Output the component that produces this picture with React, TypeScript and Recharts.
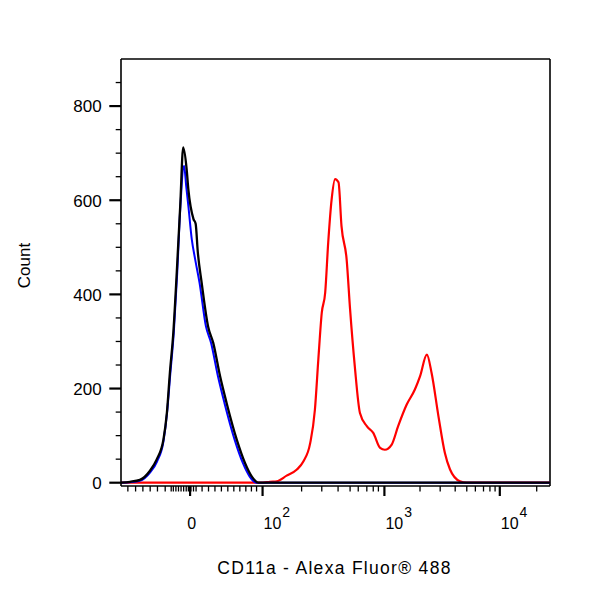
import React from "react";
import { LineChart, Line, XAxis, YAxis, Label, ReferenceLine } from "recharts";

// Display channel (0..1000 across the biexponential axis) and counts per series
const stainedChannel = [0, 261, 331, 347, 363, 386, 410, 425, 441, 452, 460, 468, 476, 483, 491, 499, 507, 514, 526, 534, 545, 557, 573, 588, 604, 615, 631, 646, 666, 685, 697, 713, 724, 740, 755, 767, 790, 806, 1000];
const stainedCount = [0, 0, 0, 2, 3, 15, 28, 45, 84, 155, 262, 361, 404, 510, 602, 645, 638, 545, 474, 368, 247, 148, 120, 106, 74, 70, 81, 120, 166, 198, 226, 272, 233, 141, 63, 28, 3, 0, 0];

const unstainedChannel = [0, 21, 44, 68, 84, 99, 107, 115, 123, 131, 138, 147, 152, 157, 165, 173, 183, 198, 210, 226, 241, 265, 284, 300, 315, 1000];
const unstainedCount = [0, 1, 4, 22, 45, 88, 145, 232, 318, 445, 580, 673, 630, 588, 517, 474, 425, 332, 297, 226, 170, 91, 42, 13, 0, 0];

const isotypeChannel = [0, 21, 44, 68, 83, 99, 107, 114, 122, 130, 138, 145, 153, 157, 169, 174, 179, 188, 203, 215, 231, 246, 270, 289, 305, 320, 1000];
const isotypeCount = [0, 2, 6, 26, 49, 92, 149, 234, 319, 447, 587, 712, 666, 623, 560, 550, 490, 425, 332, 297, 226, 170, 91, 42, 13, 0, 0];

// Axis ticks
const xMajorTicks = [161, 330, 614, 883];
const xMajorLabels = ["0", "2", "3", "4"]; // "0" then exponents of 10
const xMinorTicks = [
  16, 34, 51, 68, 85, 103,
  117, 122, 128, 134, 140, 146, 152, 157, 163, 169, 175,
  189, 204, 219, 234, 249, 263, 277, 291, 304, 316,
  421, 468, 506, 534, 553, 573, 588, 600,
  697, 744, 779, 806, 826, 845, 860, 872,
  969,
];
const yMajorTicks = [0, 200, 400, 600, 800];
const yMinorTicks = [50, 100, 150, 250, 300, 350, 450, 500, 550, 650, 700, 750, 850];

const xDomain = [0, 1000];
const yDomain = [-7, 900];

const xTitle = "CD11a - Alexa Fluor® 488";
const yTitle = "Count";

const FONT = "'Liberation Sans', Arial, sans-serif";

const toRows = (xs: number[], ys: number[]) => xs.map((ch, i) => ({ ch, count: ys[i] }));
const stainedData = toRows(stainedChannel, stainedCount);
const unstainedData = toRows(unstainedChannel, unstainedCount);
const isotypeData = toRows(isotypeChannel, isotypeCount);

const allXTicks = [...xMinorTicks, ...xMajorTicks].sort((a, b) => a - b);
const allYTicks = [...yMinorTicks, ...yMajorTicks].sort((a, b) => a - b);

const XTick = (props: any) => {
  const { x, y, payload } = props;
  const idx = xMajorTicks.indexOf(payload.value);
  const major = idx >= 0;
  return (
    <g>
      <line x1={x} x2={x} y1={y} y2={y + (major ? 10 : 5.5)} stroke="#000" strokeWidth={major ? 2.2 : 1.3} />
      {major && idx === 0 && (
        <text x={x + 1.7} y={y + 43} textAnchor="middle" fontSize={16} fontFamily={FONT} fill="#000">
          0
        </text>
      )}
      {major && idx > 0 && (
        <text x={x + 1} y={y + 43} textAnchor="start" fontSize={16} fontFamily={FONT} fill="#000">
          10
          <tspan dy={-12.5} dx={1} fontSize={14}>
            {xMajorLabels[idx]}
          </tspan>
        </text>
      )}
    </g>
  );
};

const YTick = (props: any) => {
  const { x, y, payload } = props;
  const major = yMajorTicks.includes(payload.value);
  return (
    <g>
      <line x1={x - (major ? 11.7 : 5.3)} x2={x} y1={y} y2={y} stroke="#000" strokeWidth={major ? 2.2 : 1.3} />
      {major && (
        <text x={x - 19.3} y={y + 6.3} textAnchor="end" fontSize={17} fontFamily={FONT} fill="#000">
          {payload.value}
        </text>
      )}
    </g>
  );
};

const XTitle = (props: any) => {
  const vb = props.viewBox || {};
  return (
    <text
      x={vb.x + vb.width / 2 - 1}
      y={vb.y + 88}
      textAnchor="middle"
      fontSize={17.5}
      letterSpacing={1.3}
      fontFamily={FONT}
      fill="#000"
    >
      {xTitle}
    </text>
  );
};

const YTitle = (props: any) => {
  const vb = props.viewBox || {};
  const cx = 22;
  const cy = vb.y + vb.height / 2 - 7;
  return (
    <text
      x={cx}
      y={cy}
      transform={`rotate(-90 ${cx} ${cy})`}
      textAnchor="middle"
      fontSize={17}
      fontFamily={FONT}
      fill="#000"
    >
      {yTitle}
    </text>
  );
};

export default function App() {
  return (
    <div style={{ width: 584, height: 584, background: "#fff" }}>
      <LineChart width={584} height={584} margin={{ top: 51, right: 42, left: 0, bottom: 6 }}>
        <XAxis
          xAxisId="main"
          dataKey="ch"
          type="number"
          domain={xDomain}
          allowDataOverflow
          ticks={allXTicks}
          interval={0}
          tick={<XTick />}
          tickLine={false}
          tickSize={0}
          tickMargin={0}
          height={100}
          axisLine={{ stroke: "#000", strokeWidth: 1.6 }}
        >
          <Label content={<XTitle />} />
        </XAxis>
        <YAxis
          yAxisId="main"
          type="number"
          domain={yDomain}
          allowDataOverflow
          ticks={allYTicks}
          interval={0}
          tick={<YTick />}
          tickLine={false}
          tickSize={0}
          tickMargin={0}
          width={113}
          axisLine={{ stroke: "#000", strokeWidth: 1.6 }}
        >
          <Label content={<YTitle />} />
        </YAxis>
        <ReferenceLine xAxisId="main" yAxisId="main" y={yDomain[1]} stroke="#000" strokeWidth={1.6} ifOverflow="visible" />
        <ReferenceLine xAxisId="main" yAxisId="main" x={xDomain[1]} stroke="#000" strokeWidth={1.6} ifOverflow="visible" />
        <Line
          xAxisId="main"
          yAxisId="main"
          data={stainedData}
          dataKey="count"
          type="monotone"
          stroke="#ff0000"
          strokeWidth={2.2}
          dot={false}
          activeDot={false}
          isAnimationActive={false}
        />
        <Line
          xAxisId="main"
          yAxisId="main"
          data={unstainedData}
          dataKey="count"
          type="monotone"
          stroke="#0000ff"
          strokeWidth={2}
          dot={false}
          activeDot={false}
          isAnimationActive={false}
        />
        <Line
          xAxisId="main"
          yAxisId="main"
          data={isotypeData}
          dataKey="count"
          type="monotone"
          stroke="#000000"
          strokeWidth={2.3}
          dot={false}
          activeDot={false}
          isAnimationActive={false}
        />
      </LineChart>
    </div>
  );
}
